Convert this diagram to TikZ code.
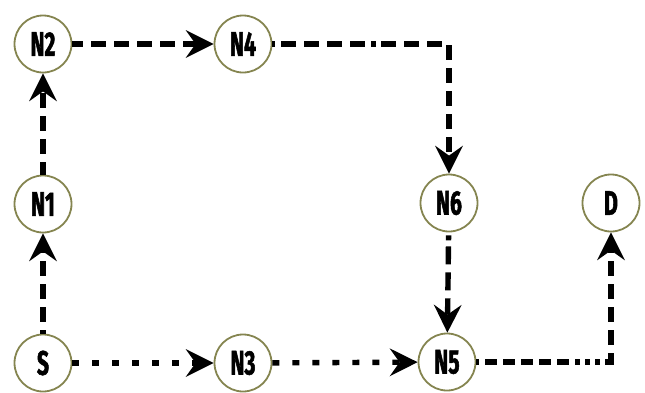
\documentclass[tikz,border=0pt]{standalone}
\usepackage{fontspec}
\newfontfamily\lbl{Fira Sans}[FakeStretch=0.62,FakeBold=1.5]
\usetikzlibrary{arrows.meta}
\definecolor{ringcol}{HTML}{858550}
\tikzset{
  station/.style={circle, draw=ringcol, line width=1.8pt, fill=white,
    minimum size=57pt, inner sep=0pt,
    font=\lbl\bfseries\fontsize{34}{34}\selectfont},
  route/.style={line width=5.4pt, black,
    -{Stealth[length=28pt,width=28pt,inset=10pt,line width=0pt]}},
  dashline/.style={dash pattern=on 15pt off 8pt},
  dotline/.style={dash pattern=on 7pt off 13pt},
}
\begin{document}
\begin{tikzpicture}[x=1pt,y=-1pt]
\useasboundingbox (0,0) rectangle (645,392);
\node[station] (S)  at (43,363)  {S};
\node[station] (N1) at (43,204)  {N1};
\node[station] (N2) at (43,44)   {N2};
\node[station] (N4) at (243,44)  {N4};
\node[station] (N3) at (243,363) {N3};
\node[station] (N5) at (447,362) {N5};
\node[station] (N6) at (449,203) {N6};
\node[station] (D)  at (611,203) {D};
\coordinate (c1) at (449,44);
\coordinate (c2) at (611,362);
% vertical climb on the left
\draw[route, dashline, dash phase=11pt] (S) -- (N1);
\draw[route, dashline, dash phase=2pt] (N1) -- (N2);
% top run
\draw[route, dashline, dash phase=4pt] (N2) -- (N4);
\draw[route, dash pattern=on 3pt off 6pt on 15pt off 8pt on 15pt off 8pt on 15pt off 8pt on 15pt off 6pt on 5pt off 5pt on 15pt off 8pt on 15pt off 8pt on 15pt off 8pt on 15pt off 8pt on 15pt off 8pt on 15pt off 8pt on 15pt off 8pt on 15pt off 8pt on 15pt off 8pt on 15pt off 8pt]
  (N4) -- (c1) -- (N6);
\draw[route, dash pattern=on 0pt off 3pt on 5pt off 6pt on 18pt off 8pt on 18pt off 8pt on 18pt off 8pt on 18pt off 8pt] (N6) -- (N5);
% bottom run
\draw[route, dotline] (S) -- (N3);
\draw[route, dotline] (N3) -- (N5);
\draw[route, dash pattern=on 3pt off 6pt on 12pt off 6pt on 12pt off 6pt on 12pt off 6pt on 12pt off 6pt on 12pt off 6pt on 5pt off 5pt on 5pt off 5pt on 5pt off 5pt on 15pt off 8pt on 15pt off 8pt on 15pt off 8pt on 15pt off 8pt on 15pt off 8pt on 15pt off 8pt on 15pt off 8pt]
  (N5) -- (c2) -- (D);
\end{tikzpicture}
\end{document}
